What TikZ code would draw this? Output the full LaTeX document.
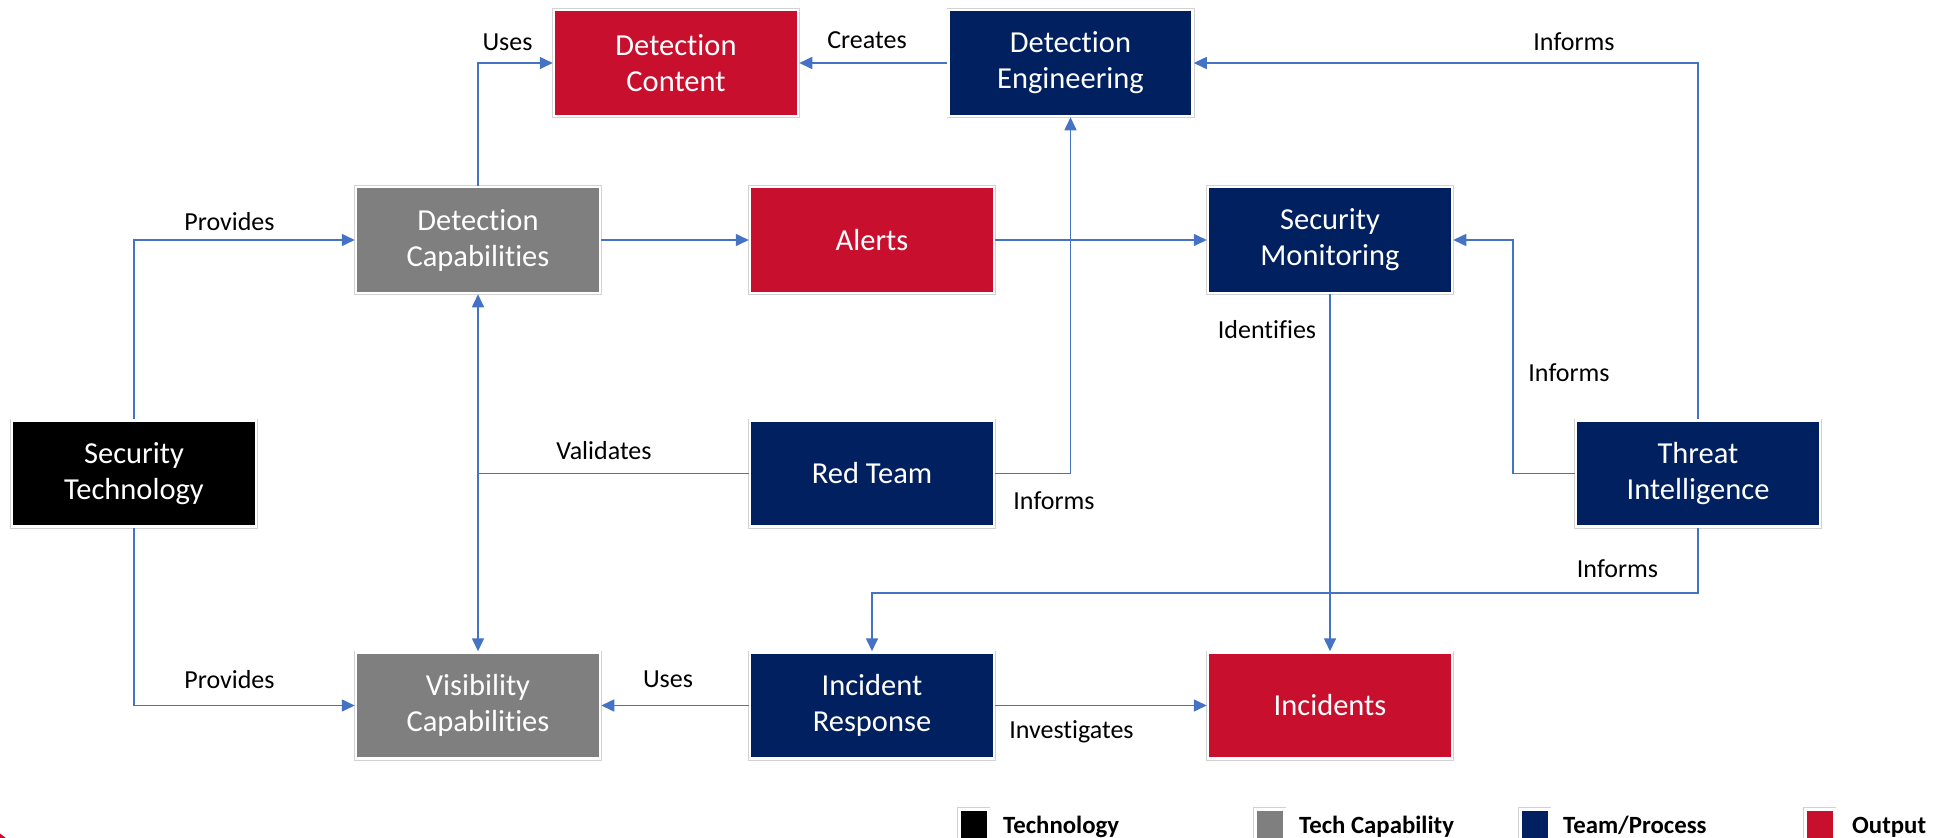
\documentclass[tikz,border=0pt]{standalone}
\usepackage{fontspec}
\setmainfont{Carlito}[Ligatures=CommonOff]
\usetikzlibrary{arrows.meta}

\definecolor{outred}{HTML}{C8102E}
\definecolor{teamblue}{HTML}{002060}
\definecolor{capgrey}{HTML}{7F7F7F}
\definecolor{linkblue}{HTML}{4472C4}
\definecolor{framegrey}{HTML}{D2D2D2}

\tikzset{
  boxbase/.style={rectangle, inner sep=0pt, text=white, align=center,
    preaction={draw=framegrey, line width=4pt}, draw=white, line width=2.5pt},
  box/.style={boxbase, minimum width=244pt, minimum height=106pt,
    font=\fontsize{30.5}{36}\selectfont},
  techbox/.style={box, fill=black},
  capbox/.style={box, fill=capgrey},
  teambox/.style={box, fill=teamblue},
  outbox/.style={box, fill=outred},
  link/.style={draw=linkblue, line width=1.6pt, -{Triangle[length=13pt,width=12pt]}},
  plainlink/.style={draw=linkblue, line width=1.6pt},
  lbl/.style={font=\fontsize{26}{30}\selectfont, inner sep=0pt},
  keybox/.style={boxbase, minimum width=29pt, minimum height=38pt, anchor=north west},
  keytext/.style={font=\bfseries\fontsize{24.8}{30}\selectfont, inner sep=0pt, anchor=base west},
}

\begin{document}
\begin{tikzpicture}[x=1pt, y=-1pt]
  \useasboundingbox (0,0) rectangle (1936,838);

  % boxes
  \node[outbox]  (dcont)  at (676,63)      {Detection\\Content};
  \node[teambox] (deng)   at (1070.5,63)   {Detection\\Engineering};
  \node[capbox]  (dcap)   at (478,240)     {Detection\\Capabilities};
  \node[outbox]  (alerts) at (872,240)     {Alerts};
  \node[teambox] (smon)   at (1330,240)    {Security\\Monitoring};
  \node[techbox] (stech)  at (134,473.5)   {Security\\Technology};
  \node[teambox] (red)    at (872,473.5)   {Red Team};
  \node[teambox] (ti)     at (1698,473.5)  {Threat\\Intelligence};
  \node[capbox]  (vcap)   at (478,705.5)   {Visibility\\Capabilities};
  \node[teambox] (ir)     at (872,705.5)   {Incident\\Response};
  \node[outbox]  (inc)    at (1330,705.5)  {Incidents};

  % connectors
  \draw[link] (dcap.north) |- (dcont.west);
  \draw[link] (deng.west) -- (dcont.east);
  \draw[link] (ti.north) |- (deng.east);
  \draw[link] (stech.north) |- (dcap.west);
  \draw[link] (stech.south) |- (vcap.west);
  \draw[link] (dcap.east) -- (alerts.west);
  \draw[link] (alerts.east) -- (smon.west);
  \draw[link] (red.east) -| (deng.south);
  \coordinate (vj) at (dcap.south |- red.west);
  \draw[plainlink] (red.west) -- (vj);
  \draw[link] (vj) -- (dcap.south);
  \draw[link] (vj) -- (vcap.north);
  \draw[link] (ti.west) -- ++(-62,0) |- (smon.east);
  \draw[link] (ti.south) -- ++(0,65) -| (ir.north);
  \draw[link] (smon.south) -- (inc.north);
  \draw[link] (ir.east) -- (inc.west);
  \draw[link] (ir.west) -- (vcap.east);

  % connector labels
  \node[lbl] (l1)  at (507.5,42)  {Uses};
  \node[lbl] (l2)  at (867,40)    {Creates};
  \node[lbl] (l3)  at (1574,42)   {Informs};
  \node[lbl] (l4)  at (229.5,222) {Provides};
  \node[lbl] (l5)  at (229.5,680) {Provides};
  \node[lbl] (l6)  at (604,451)   {Validates};
  \node[lbl] (l7)  at (1054,501)  {Informs};
  \node[lbl] (l8)  at (1267,330)  {Identifies};
  \node[lbl] (l9)  at (1569,373)  {Informs};
  \node[lbl] (l10) at (1617.5,569){Informs};
  \node[lbl] (l11) at (1071.5,732){Investigates};
  \node[lbl] (l12) at (668,679)   {Uses};

  % legend
  \node[keybox, fill=black]    (k1) at (958,808)  {};
  \node[keytext] (t1) at (1003,833) {Technology};
  \node[keybox, fill=capgrey]  (k2) at (1254,808) {};
  \node[keytext] (t2) at (1299,833) {Tech Capability};
  \node[keybox, fill=teamblue] (k3) at (1519,808) {};
  \node[keytext] (t3) at (1563,833) {Team/Process};
  \node[keybox, fill=outred]   (k4) at (1804,808) {};
  \node[keytext] (t4) at (1852,833) {Output};

  % red corner mark
  \fill[outred] (0,833.5) -- (6,838) -- (0,838) -- cycle;
\end{tikzpicture}
\end{document}
